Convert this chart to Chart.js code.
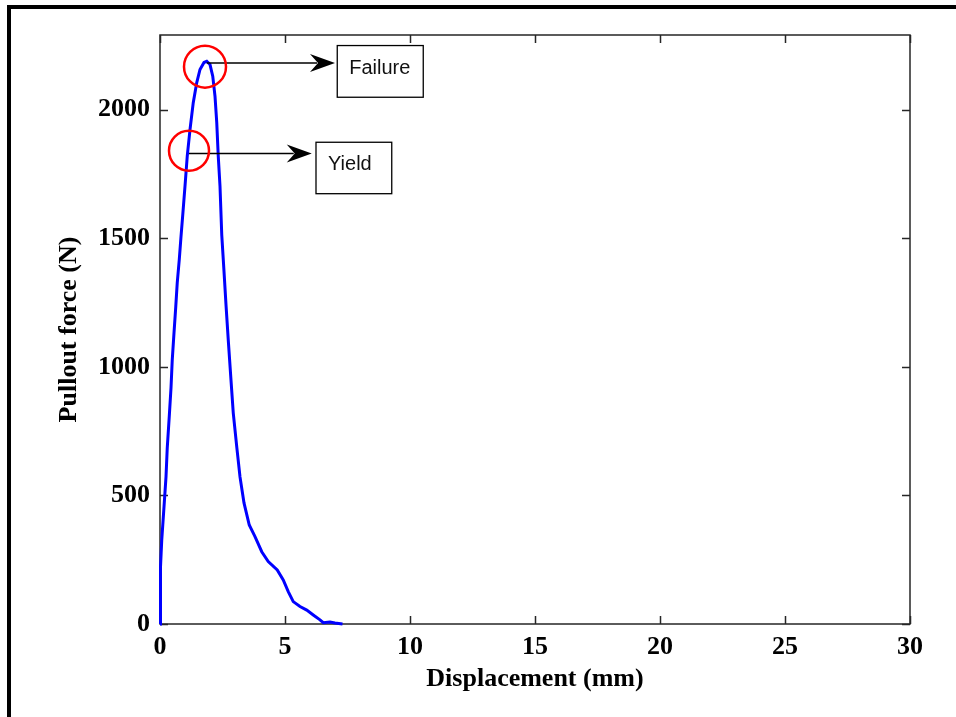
<!DOCTYPE html>
<html>
<head>
<meta charset="utf-8">
<script src="https://cdn.jsdelivr.net/npm/chart.js@4/dist/chart.umd.min.js"></script>
<style>
  html, body { margin: 0; padding: 0; background: #fff; }
  #wrap { position: relative; width: 956px; height: 717px; }
</style>
</head>
<body>
<div id="wrap"><canvas id="pullout" width="956" height="717"></canvas></div>
<script>
// values
var displacement = [0, 0.01, 0.03, 0.07, 0.16, 0.24, 0.29, 0.37, 0.44, 0.49, 0.56, 0.63, 0.69, 0.77, 0.84,
    0.91, 1.0, 1.09, 1.2, 1.33, 1.47, 1.6, 1.76, 1.87, 2.0, 2.11, 2.2, 2.27, 2.33, 2.4, 2.47, 2.56, 2.64,
    2.73, 2.83, 2.93, 3.07, 3.2, 3.36, 3.57, 3.8, 4.07, 4.33, 4.69, 4.93, 5.13, 5.33, 5.6, 5.87, 6.13,
    6.4, 6.53, 6.8, 7.0, 7.3];
var force = [0, 120, 222, 327, 455, 572, 685, 806, 918, 1027, 1132, 1233, 1327, 1416, 1506,
    1591, 1702, 1819, 1922, 2027, 2105, 2156, 2183, 2188, 2175, 2130, 2052, 1949, 1819, 1702, 1513, 1371, 1241,
    1105, 962, 821, 689, 572, 471, 385, 340, 281, 243, 210, 171, 126, 87, 68, 54, 35,
    16, 5, 8, 4, 0];
var xTicks = [0, 5, 10, 15, 20, 25, 30];
var yTicks = [0, 500, 1000, 1500, 2000];
var markerNames = ['Yield', 'Failure'];
var markerPoints = [[1.16, 1829], [1.87, 2181]];

// annotation layout, in data units
var notes = [
    { circle: [1.16, 1840], r: 20, tipX: 6.07, box: [6.24, 9.27, 1873, 1673] },
    { circle: [1.8, 2167], r: 21, tipX: 7.0, box: [7.09, 10.53, 2249, 2048] }
];

var points = displacement.map(function (d, i) {
    return { x: d, y: force[i] };
});

var serif = 'Liberation Serif, Times New Roman, serif';

function arrowHead(ctx, x, y) {
    ctx.beginPath();
    ctx.moveTo(x, y);
    ctx.lineTo(x - 25, y - 9);
    ctx.lineTo(x - 17, y);
    ctx.lineTo(x - 25, y + 9);
    ctx.closePath();
    ctx.fill();
}

var decor = {
    id: 'decor',
    beforeDatasetsDraw: function (chart) {
        var ctx = chart.ctx, a = chart.chartArea;
        var xs = chart.scales.x, ys = chart.scales.y;
        ctx.save();
        ctx.strokeStyle = '#262626';
        ctx.lineWidth = 1.5;
        ctx.strokeRect(a.left, a.top, a.right - a.left, a.bottom - a.top);
        ctx.beginPath();
        xTicks.forEach(function (v) {
            var px = Math.round(xs.getPixelForValue(v)) + 0.5;
            ctx.moveTo(px, a.bottom); ctx.lineTo(px, a.bottom - 8);
            ctx.moveTo(px, a.top); ctx.lineTo(px, a.top + 8);
        });
        yTicks.forEach(function (v) {
            var py = Math.round(ys.getPixelForValue(v)) + 0.5;
            ctx.moveTo(a.left, py); ctx.lineTo(a.left + 8, py);
            ctx.moveTo(a.right, py); ctx.lineTo(a.right - 8, py);
        });
        ctx.stroke();
        ctx.restore();
    },
    afterDraw: function (chart) {
        var ctx = chart.ctx;
        var xs = chart.scales.x, ys = chart.scales.y;
        ctx.save();
        // page frame
        ctx.fillStyle = '#000';
        ctx.fillRect(7, 5, 4, 712);
        ctx.fillRect(7, 5, 949, 4);

        notes.forEach(function (n, i) {
            var sx = xs.getPixelForValue(markerPoints[i][0]);
            var sy = ys.getPixelForValue(markerPoints[i][1]);
            var tx = xs.getPixelForValue(n.tipX);
            ctx.strokeStyle = '#000';
            ctx.lineWidth = 1.5;
            ctx.beginPath();
            ctx.moveTo(sx, sy); ctx.lineTo(tx - 18, sy);
            ctx.stroke();
            ctx.fillStyle = '#000';
            arrowHead(ctx, tx, sy);

            ctx.strokeStyle = '#ff0000';
            ctx.lineWidth = 2.5;
            ctx.beginPath();
            ctx.arc(xs.getPixelForValue(n.circle[0]), ys.getPixelForValue(n.circle[1]), n.r, 0, Math.PI * 2);
            ctx.stroke();

            var bl = xs.getPixelForValue(n.box[0]), br = xs.getPixelForValue(n.box[1]);
            var bt = ys.getPixelForValue(n.box[2]), bb = ys.getPixelForValue(n.box[3]);
            ctx.strokeStyle = '#000';
            ctx.lineWidth = 1.3;
            ctx.strokeRect(bl, bt, br - bl, bb - bt);
            ctx.fillStyle = '#111';
            ctx.font = '20px Liberation Sans, Arial, sans-serif';
            ctx.textBaseline = 'middle';
            ctx.textAlign = 'left';
            ctx.fillText(markerNames[i], bl + 12, (bt + bb) / 2 - 3);
        });
        ctx.restore();
    }
};

new Chart(document.getElementById('pullout').getContext('2d'), {
    type: 'line',
    data: {
        datasets: [{
            data: points,
            borderColor: '#0000ff',
            borderWidth: 3,
            pointRadius: 0,
            tension: 0,
            fill: false,
            clip: 6
        }]
    },
    options: {
        responsive: false,
        animation: false,
        devicePixelRatio: 1,
        layout: { padding: { left: 0, right: 46, top: 35, bottom: 0 } },
        plugins: { legend: { display: false }, tooltip: { enabled: false } },
        scales: {
            x: {
                type: 'linear',
                min: 0,
                max: 30,
                grid: { display: false, drawTicks: false },
                border: { display: false },
                afterBuildTicks: function (s) { s.ticks = xTicks.map(function (v) { return { value: v }; }); },
                afterFit: function (s) { s.height = 93; },
                ticks: { color: '#000', padding: 8, maxRotation: 0, font: { family: serif, size: 26, weight: 'bold' },
                    callback: function (v) { return String(v); } },
                title: { display: true, text: 'Displacement (mm)', color: '#000', padding: { top: 0, bottom: 22 },
                    font: { family: serif, size: 26, weight: 'bold' } }
            },
            y: {
                min: 0,
                max: 2290,
                grid: { display: false, drawTicks: false },
                border: { display: false },
                afterBuildTicks: function (s) { s.ticks = yTicks.map(function (v) { return { value: v }; }); },
                afterFit: function (s) { s.width = 160; },
                ticks: { color: '#000', padding: 10, font: { family: serif, size: 26, weight: 'bold' },
                    callback: function (v) { return String(v); } },
                title: { display: true, text: 'Pullout force (N)', color: '#000', padding: { top: 54, bottom: 0 },
                    font: { family: serif, size: 26, weight: 'bold' } }
            }
        }
    },
    plugins: [decor]
});
</script>
</body>
</html>
